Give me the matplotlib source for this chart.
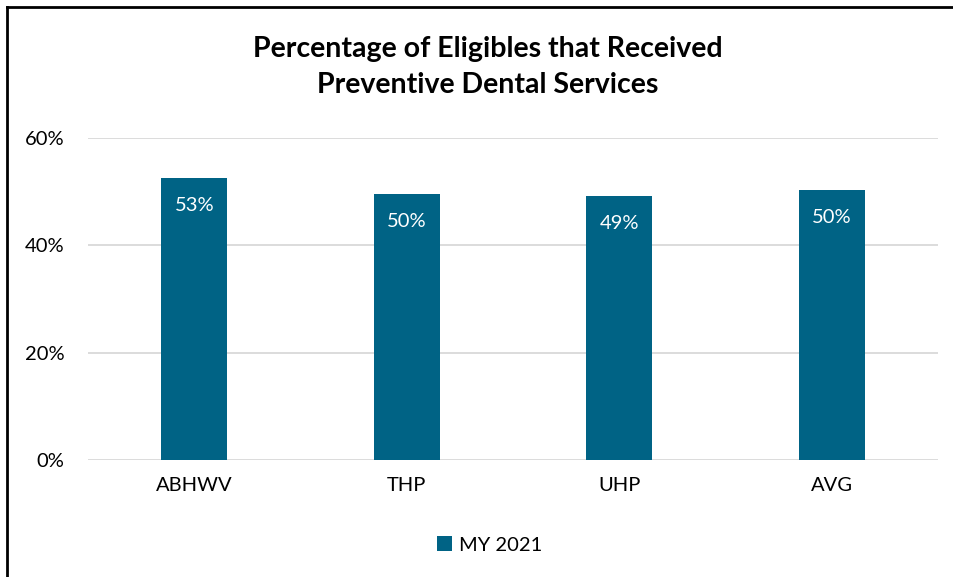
import matplotlib.pyplot as plt
from matplotlib.lines import Line2D

plans = ["ABHWV", "THP", "UHP", "AVG"]
pct_2021 = [52.6, 49.6, 49.2, 50.4]
labels_2021 = ["53%", "50%", "49%", "50%"]
yticks = [0, 20, 40, 60]

bar_color = "#006385"
plt.rcParams['font.family'] = ['Lato', 'DejaVu Sans']

fig = plt.figure(figsize=(9.54, 5.77), dpi=100)
ax = fig.add_axes([88 / 954, 1 - 460 / 577, 850 / 954, 322 / 577])

x = range(len(plans))
bars = ax.bar(x, pct_2021, width=0.31, color=bar_color, zorder=3, label="MY 2021")
for b, lab in zip(bars, labels_2021):
    ax.text(b.get_x() + b.get_width() / 2, b.get_height() - 3.6, lab,
            ha="center", va="top", color="white", fontsize=14.5)

ax.set_xlim(-0.5, len(plans) - 0.5)
ax.set_ylim(0, 60)
ax.set_yticks(yticks)
ax.set_yticklabels([f"{t}%" for t in yticks], fontsize=14.5)
ax.set_xticks(list(x))
ax.set_xticklabels(plans, fontsize=14.5)
ax.tick_params(length=0)
ax.tick_params(axis="y", pad=17)
ax.tick_params(axis="x", pad=12)
ax.yaxis.grid(True, color="#d9d9d9", linewidth=1.3, zorder=0)
for s in ax.spines.values():
    s.set_visible(False)

fig.text(488 / 954, 1 - 67 / 577,
         "Percentage of Eligibles that Received\nPreventive Dental Services",
         ha="center", va="center", fontsize=20.5, fontweight="bold", linespacing=1.5)

ax.legend(loc="center", bbox_to_anchor=(490 / 954, 1 - 545 / 577),
          bbox_transform=fig.transFigure, frameon=False, fontsize=14.5,
          handlelength=0.75, handleheight=0.75, handletextpad=0.35)

# top and left edge of the chart box
fig.add_artist(Line2D([7.5 / 954, 1], [1 - 6.5 / 577] * 2,
                      transform=fig.transFigure, color="black", linewidth=2))
fig.add_artist(Line2D([7.5 / 954] * 2, [0, 1 - 6.5 / 577],
                      transform=fig.transFigure, color="black", linewidth=2))

fig.savefig("out.png", dpi=100)
